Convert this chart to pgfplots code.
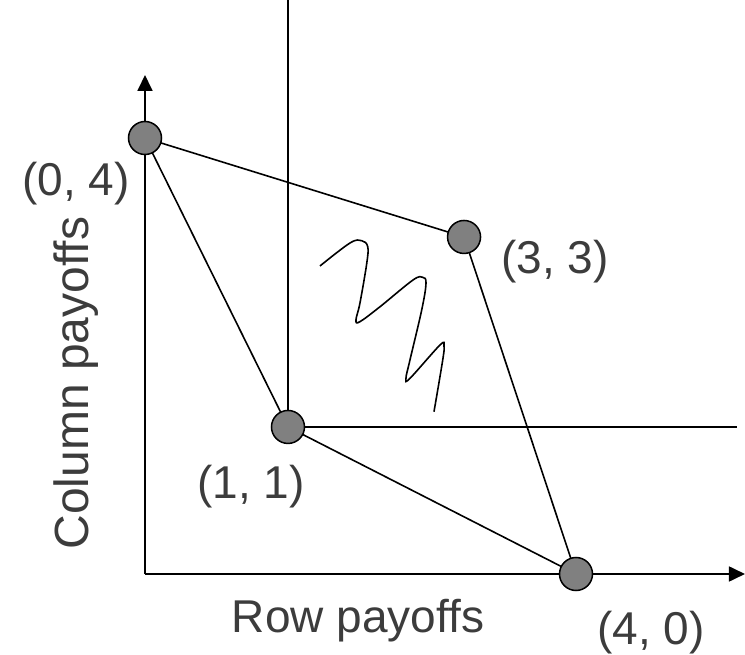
\documentclass[border=0pt]{standalone}
\usepackage{pgfplots}
\pgfplotsset{compat=1.18}
\usepackage{fontspec}
\setmainfont{Liberation Sans}
\usetikzlibrary{arrows.meta}
\definecolor{txt}{RGB}{60,60,60}
\definecolor{dot}{RGB}{128,128,128}
\newcommand{\lbl}{\fontsize{46bp}{50bp}\selectfont}
\begin{document}
\begin{tikzpicture}
\begin{axis}[
 width=745bp, height=655bp, scale only axis,
 xmin=-1.3457, xmax=5.5684, ymin=-0.7431, ymax=5.2661,
 hide axis, clip=false,
]
% axes
\addplot[black, line width=1.8bp, -{Triangle[width=15bp,length=16bp]}] coordinates {(0,0) (0,4.578)};
\addplot[black, line width=1.8bp, -{Triangle[width=15bp,length=16bp]}] coordinates {(0,0) (5.568,0)};
% threat-point lines
\addplot[black, line width=1.8bp] coordinates {(1.327,1.349) (1.327,5.2661)};
\addplot[black, line width=1.8bp] coordinates {(1.327,1.349) (5.494,1.349)};
% feasible region
\addplot[black, line width=1.6bp] coordinates {(0,4) (2.961,3.092) (4,0) (1.327,1.349) (0,4)};
% squiggle
\addplot[black, line width=1.6bp, smooth, tension=0.6] coordinates {
(1.624,2.826) (1.903,3.037) (2.011,3.058) (2.067,3.003) (2.058,2.850)
(1.995,2.486) (1.958,2.330) (1.995,2.315) (2.181,2.452) (2.487,2.697)
(2.577,2.722) (2.608,2.667) (2.568,2.422) (2.459,1.963) (2.422,1.795)
(2.459,1.795) (2.738,2.101) (2.775,2.092) (2.763,1.963) (2.682,1.489)};
% points
\addplot[only marks, mark=*, mark size=16.5bp, mark options={fill=dot, draw=black, line width=1.5bp}]
 coordinates {(0,4) (2.961,3.092) (4,0) (1.327,1.349)};
% labels
\node[anchor=base, inner sep=0pt, text=txt, font=\lbl] at (axis cs:-0.640,3.477) {(0, 4)};
\node[anchor=base, inner sep=0pt, text=txt, font=\lbl] at (axis cs:0.984,0.697) {(1, 1)};
\node[anchor=base, inner sep=0pt, text=txt, font=\lbl] at (axis cs:3.805,2.761) {(3, 3)};
\node[anchor=base, inner sep=0pt, text=txt, font=\lbl] at (axis cs:4.696,-0.651) {(4, 0)};
\node[anchor=base, inner sep=0pt, text=txt, font=\lbl] at (axis cs:1.977,-0.541) {Row payoffs};
\node[anchor=base, inner sep=0pt, text=txt, font=\fontsize{48bp}{52bp}\selectfont, rotate=90] at (axis cs:-0.520,1.752) {Column payoffs};
\end{axis}
\pgfresetboundingbox
\path (current axis.south west) rectangle (current axis.north east);
\end{tikzpicture}
\end{document}
